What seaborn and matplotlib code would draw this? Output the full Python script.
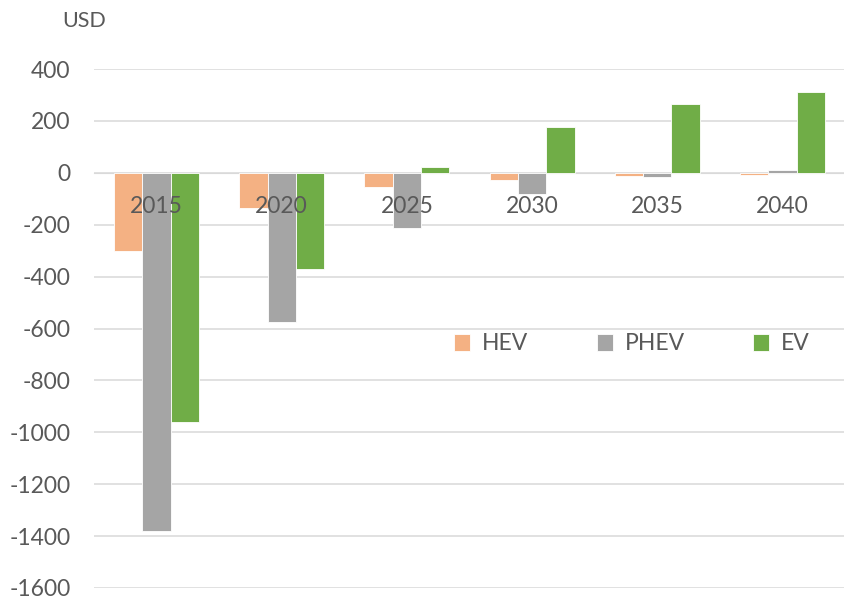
import matplotlib
matplotlib.use('Agg')
import matplotlib.pyplot as plt
import seaborn as sns
import pandas as pd

# values (USD)
years = ['2015', '2020', '2025', '2030', '2035', '2040']
hev = [-300, -135, -56, -29, -14, -8]
phev = [-1380, -574, -211, -82, -18, 12]
ev = [-962, -370, 24, 178, 265, 312]
series = ['HEV', 'PHEV', 'EV']
colors = ['#F4B183', '#A5A5A5', '#70AD47']
yticks = [400, 200, 0, -200, -400, -600, -800, -1000, -1200, -1400, -1600]

rows = []
for name, vals in zip(series, [hev, phev, ev]):
    for yr, v in zip(years, vals):
        rows.append({'year': yr, 'series': name, 'value': v})
df = pd.DataFrame(rows)

sns.set_style('white')
plt.rcParams['font.family'] = ['Lato', 'DejaVu Sans']
txt = '#595959'
fs = 16.5

fig = plt.figure(figsize=(8.45, 6), dpi=100)
ax = fig.add_axes([94 / 845, 12 / 600, 751 / 845, 519 / 600])

sns.barplot(data=df, x='year', y='value', hue='series', palette=colors,
            width=0.68, gap=0, edgecolor='white', linewidth=0.6,
            saturation=1, ax=ax, zorder=3)

ax.set_ylim(-1600, 400)
ax.set_yticks(yticks)
ax.set_yticklabels([str(t) for t in yticks], color=txt, fontsize=fs)
ax.yaxis.grid(True, color='#D9D9D9', linewidth=1.1)
ax.set_axisbelow(True)
# year labels sit on top of the bars, gridlines stay behind
ax.xaxis.set_zorder(5)
for s in ['top', 'right', 'left']:
    ax.spines[s].set_visible(False)
ax.spines['bottom'].set_position(('data', 0))
ax.spines['bottom'].set_color('#D9D9D9')
ax.spines['bottom'].set_zorder(1)
ax.tick_params(axis='x', length=0, pad=17, labelsize=fs, labelcolor=txt)
ax.tick_params(axis='y', length=0, pad=17)
ax.set_xlabel('')
ax.set_ylabel('')

fig.text(84 / 845, 1 - 21 / 600, 'USD', color=txt, fontsize=fs - 1,
         ha='center', va='center')

ax.legend(loc='center', bbox_to_anchor=(632 / 845, 1 - 344 / 600),
          bbox_transform=fig.transFigure, ncol=3, frameon=False,
          handlelength=0.7, handleheight=0.7, handletextpad=0.5,
          columnspacing=3.0, prop={'size': fs}, labelcolor=txt)

fig.savefig('out.png', dpi=100)
